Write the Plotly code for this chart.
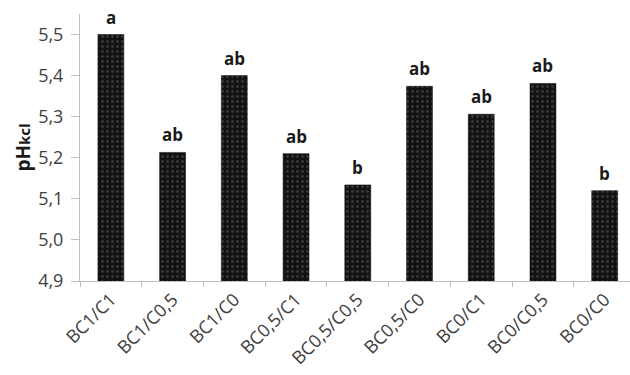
import plotly.graph_objects as go

categories = ["BC1/C1", "BC1/C0,5", "BC1/C0", "BC0,5/C1", "BC0,5/C0,5",
              "BC0,5/C0", "BC0/C1", "BC0/C0,5", "BC0/C0"]
values = [5.50, 5.213, 5.40, 5.21, 5.134, 5.374, 5.306, 5.381, 5.12]
letters = ["a", "ab", "ab", "ab", "b", "ab", "ab", "ab", "b"]
yticks = [4.9, 5.0, 5.1, 5.2, 5.3, 5.4, 5.5]
BASE = 4.9

fig = go.Figure()
fig.add_trace(go.Bar(
    x=categories, y=[v - BASE for v in values], base=BASE,
    width=0.42,
    marker=dict(color="#111111",
                line=dict(color="#000000", width=0.5),
                pattern=dict(shape=".", bgcolor="#121212", fgcolor="#606060",
                             size=5, solidity=0.25)),
))
for c, v, t in zip(categories, values, letters):
    fig.add_annotation(x=c, y=v, text="<b>%s</b>" % t, showarrow=False,
                       yanchor="bottom", yshift=4,
                       font=dict(family="Open Sans", size=17, color="#1a1a1a"))

fig.update_layout(
    width=630, height=375,
    margin=dict(l=80, r=0, t=14, b=94),
    paper_bgcolor="white", plot_bgcolor="white",
    showlegend=False,
    separators=", ",
    xaxis=dict(
        type="category", categoryorder="array", categoryarray=categories,
        range=[-0.5, 8.41], tickangle=-45,
        showline=True, linecolor="#bfbfbf", linewidth=1,
        showgrid=False, zeroline=False,
        ticks="outside", tickson="boundaries", ticklen=5, tickcolor="#bfbfbf",
        tickfont=dict(family="Open Sans", size=18, color="#404040"),
    ),
    yaxis=dict(
        range=[4.9, 5.55], tickvals=yticks, tickformat=".1f",
        showline=True, linecolor="#bfbfbf", linewidth=1,
        showgrid=False, zeroline=False,
        ticks="outside", ticklen=8, tickcolor="#bfbfbf",
        ticklabelstandoff=4,
        tickfont=dict(family="Open Sans", size=18, color="#404040"),
        title=dict(text="<b>pH<span style='font-size:15px'>kcl</span></b>",
                   font=dict(family="Open Sans", size=19, color="#1a1a1a"),
                   standoff=2),
    ),
)

fig.write_html("out.html")
